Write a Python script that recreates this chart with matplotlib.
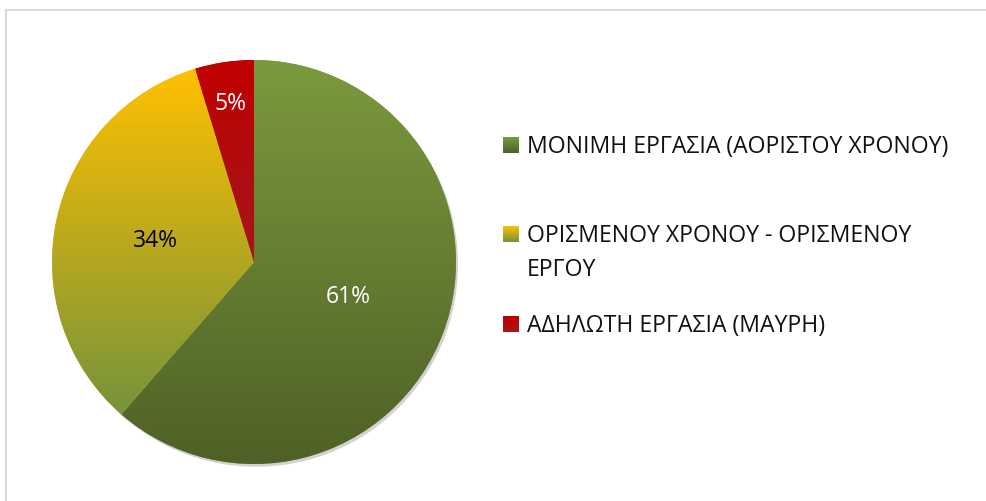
import numpy as np
import matplotlib.pyplot as plt
import matplotlib.patheffects as pe
from matplotlib.colors import LinearSegmentedColormap
from matplotlib.patches import Rectangle

plt.rcParams['font.family'] = ['Open Sans', 'DejaVu Sans']

# data
labels = ['ΜΟΝΙΜΗ ΕΡΓΑΣΙΑ (ΑΟΡΙΣΤΟΥ ΧΡΟΝΟΥ)',
          'ΟΡΙΣΜΕΝΟΥ ΧΡΟΝΟΥ - ΟΡΙΣΜΕΝΟΥ\nΕΡΓΟΥ',
          'ΑΔΗΛΩΤΗ ΕΡΓΑΣΙΑ (ΜΑΥΡΗ)']
values = [61.4, 33.9, 4.7]
# gradient top -> bottom for each slice
grad_top = ['#7b9a3d', '#ffc000', '#c00000']
grad_bot = ['#4e6127', '#76933c', '#a3171d']
pct_colors = ['white', 'black', 'white']

W, H = 986, 501
fig = plt.figure(figsize=(W / 100, H / 100), dpi=100)

# light chart border (only top and left visible)
fig.patches.append(Rectangle((6 / W, -0.5), 5.0, (H - 10) / H + 0.5,
                             transform=fig.transFigure, fill=False,
                             edgecolor='#d9d9d9', linewidth=1.5))

cx, cy, r = 254, 262, 202
ax = fig.add_axes([(cx - r) / W, (H - cy - r) / H, 2 * r / W, 2 * r / H])
ax.axis('off')

wedges, texts, autotexts = ax.pie(values, startangle=90, counterclock=False,
                                  radius=1, autopct='%1.0f%%', pctdistance=0.5,
                                  colors=grad_top,
                                  wedgeprops=dict(linewidth=0),
                                  textprops=dict(fontsize=16.5))
ax.set_xlim(-1, 1)
ax.set_ylim(-1, 1)

for w, c0, c1 in zip(wedges, grad_top, grad_bot):
    w.set_path_effects([pe.SimplePatchShadow(offset=(1.5, -2), shadow_rgbFace='#808080', alpha=0.35),
                        pe.Normal()])
    pts = w.get_patch_transform().transform(w.get_path().vertices)
    ymin, ymax = pts[:, 1].min(), pts[:, 1].max()
    cmap = LinearSegmentedColormap.from_list('g', [c1, c0])
    grad = np.linspace(0, 1, 256).reshape(-1, 1)
    im = ax.imshow(grad, cmap=cmap, origin='lower', aspect='auto',
                   extent=[-1, 1, ymin, ymax], zorder=w.get_zorder() + 0.1)
    im.set_clip_path(w)

for t, c in zip(autotexts, pct_colors):
    t.set_color(c)
    t.set_zorder(5)

# small slice label sits further out
w = wedges[2]
mid = np.deg2rad((w.theta1 + w.theta2) / 2)
autotexts[2].set_position((0.79 * np.cos(mid), 0.79 * np.sin(mid)))

# legend
lax = fig.add_axes([0, 0, 1, 1])
lax.axis('off')
rows_y = [145, 234, 324]   # square centres
for y, lab, c0, c1 in zip(rows_y, labels, grad_top, grad_bot):
    cmap = LinearSegmentedColormap.from_list('g', [c0, c1])
    lax.imshow(np.linspace(0, 1, 64).reshape(-1, 1), cmap=cmap, aspect='auto',
               extent=[503, 519, y + 8, y - 8])
    for i, line in enumerate(lab.split('\n')):
        lax.text(527, y + 8 + 34 * i, line, fontsize=16.6, va='baseline',
                 ha='left', color='#111111')
lax.set_xlim(0, W)
lax.set_ylim(H, 0)

fig.savefig('out.png', dpi=100)
